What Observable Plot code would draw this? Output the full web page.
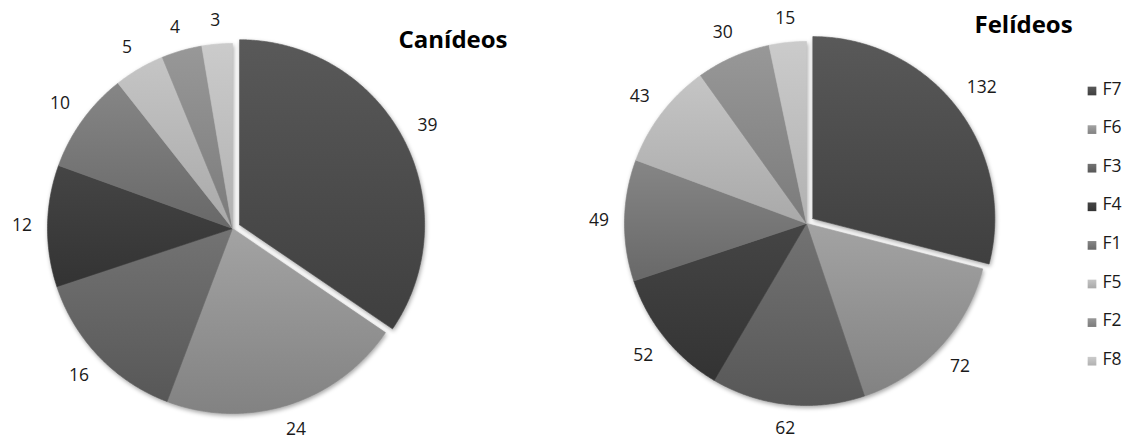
<!DOCTYPE html>
<html><head><meta charset="utf-8">
<script src="https://cdn.jsdelivr.net/npm/d3@7"></script>
<script src="https://cdn.jsdelivr.net/npm/@observablehq/plot@0.6"></script>
<style>body{margin:0;background:#fff;} #chart svg{display:block;}</style>
</head><body><div id="chart"></div>
<script>
// ---- data ----
const categories = ["F7","F6","F3","F4","F1","F5","F2","F8"];
const canideos = [39,24,16,12,10,5,4,3];
const felideos = [132,72,62,52,49,43,30,15];
const titles = ["Canídeos","Felídeos"];
const colorsTop    = ["#595959","#a3a3a3","#737373","#454545","#868686","#c5c5c5","#989898","#cbcbcb"];
const colorsBottom = ["#3f3f3f","#828282","#575757","#333333","#686868","#a9a9a9","#7b7b7b","#b1b1b1"];

// ---- layout ----
const W = 1128, H = 439;
const pies = [
  {title: titles[0], values: canideos, cx: 232, cy: 228, r: 185, tx: 398, ty: 40},
  {title: titles[1], values: felideos, cx: 806, cy: 223, r: 182, tx: 974, ty: 25}
];
const explode = 8;

const slicePts = [], labels = [], titleRows = [];
pies.forEach((p, pi) => {
  titleRows.push({x: p.tx, y: p.ty, text: p.title});
  const arcs = d3.pie().sort(null).value(d => d)(p.values);
  arcs.forEach((a, i) => {
    const mid = (a.startAngle + a.endAngle) / 2;
    const off = i === 0 ? explode : 0;
    const ox = p.cx + off * Math.sin(mid), oy = p.cy - off * Math.cos(mid);
    const key = pi + "-" + i, cat = categories[i];
    slicePts.push({key, cat, x: ox, y: oy});
    const n = Math.max(2, Math.ceil((a.endAngle - a.startAngle) / (Math.PI / 360)));
    for (let k = 0; k <= n; k++) {
      const t = a.startAngle + (a.endAngle - a.startAngle) * k / n;
      slicePts.push({key, cat, x: ox + p.r * Math.sin(t), y: oy - p.r * Math.cos(t)});
    }
    slicePts.push({key, cat, x: ox, y: oy});
    const txt = String(p.values[i]);
    const hw = txt.length * 4.9, hh = 7.5;
    const rl = p.r + 15.5 + Math.abs(Math.sin(mid)) * hw + Math.abs(Math.cos(mid)) * hh;
    labels.push({x: ox + rl * Math.sin(mid), y: oy - rl * Math.cos(mid), text: txt});
  });
});
const legendRows = categories.map((c, i) => ({cat: c, y: 90.5 + i * 38.6}));

const chart = Plot.plot({
  width: W, height: H, margin: 0,
  style: {fontFamily: "'Open Sans', sans-serif", background: "#fff"},
  x: {domain: [0, W], range: [0, W], axis: null},
  y: {domain: [0, H], range: [0, H], axis: null},
  color: {domain: categories, range: categories.map(c => `url(#g${c})`)},
  marks: [
    Plot.line(slicePts, {x: "x", y: "y", z: "key", fill: "cat", stroke: "cat", strokeWidth: 0.6, curve: "linear"}),
    Plot.text(labels, {x: "x", y: "y", text: "text", fontSize: 17.5, fill: "#1a1a1a"}),
    Plot.text(titleRows, {x: "x", y: "y", text: "text", fontSize: 24, fontWeight: "bold", fill: "#000", textAnchor: "start"}),
    Plot.dot(legendRows, {x: 1091.5, y: "y", symbol: "square", r: 4.9, fill: "cat"}),
    Plot.text(legendRows, {x: 1102, y: d => d.y - 2, text: "cat", fontSize: 17.5, fill: "#1a1a1a", textAnchor: "start"})
  ]
});

// gradient definitions for slice fills
const ns = "http://www.w3.org/2000/svg";
const defs = document.createElementNS(ns, "defs");
categories.forEach((c, i) => {
  const g = document.createElementNS(ns, "linearGradient");
  g.setAttribute("id", "g" + c);
  g.setAttribute("x1", "0"); g.setAttribute("y1", "0");
  g.setAttribute("x2", "0"); g.setAttribute("y2", "1");
  [[0, colorsTop[i]], [1, colorsBottom[i]]].forEach(([o, col]) => {
    const s = document.createElementNS(ns, "stop");
    s.setAttribute("offset", o);
    s.setAttribute("stop-color", col);
    g.appendChild(s);
  });
  defs.appendChild(g);
});
chart.prepend(defs);
const lineG = chart.querySelector('g[aria-label="line"]');
if (lineG) lineG.style.filter = "drop-shadow(1.5px 2.5px 2px rgba(0,0,0,0.35))";
document.getElementById("chart").appendChild(chart);
</script>
</body></html>
